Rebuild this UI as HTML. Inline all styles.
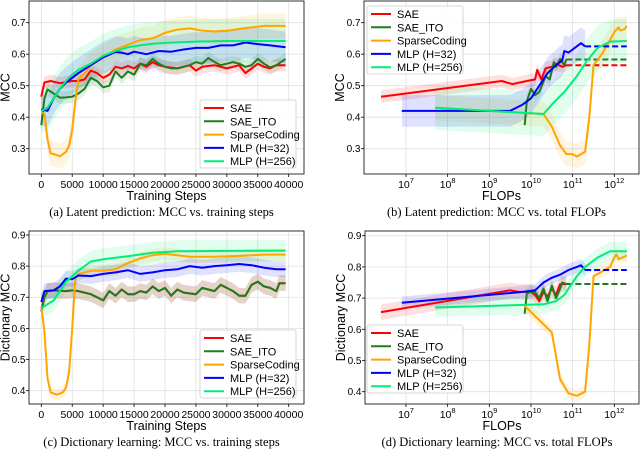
<!DOCTYPE html>
<html><head><meta charset="utf-8"><style>
body{margin:0;background:#fff;}
svg{display:block;font-family:"Liberation Sans",sans-serif;}
.cap{font-family:"Liberation Serif",serif;font-size:12.5px;fill:#000;}
</style></head><body>
<svg id="fig" width="640" height="455" viewBox="0 0 640 455"></svg>
<script>
// Panel (a): latent MCC vs training steps (thousands)
const aSAEx=[0,0.5,1.5,3,5,6,7,8,9,10,11,12,13,14,15,16,17,18,19,20,22,24,25,26,28,30,32,33,34,35,36,37,38,39.5];
const aSAEy=[0.465,0.51,0.515,0.508,0.515,0.515,0.52,0.548,0.54,0.525,0.535,0.56,0.555,0.563,0.555,0.57,0.56,0.575,0.565,0.56,0.555,0.565,0.548,0.56,0.565,0.555,0.565,0.54,0.555,0.57,0.56,0.555,0.565,0.565];
const aITOx=[0,0.5,1,2,3,4,5,6,7,8,9,10,11,12,13,14,15,16,17,18,19,20,21,22,24,25,26,27,28,29,30,31,32,33,34,35,36,37,38,39.5];
const aITOy=[0.375,0.46,0.488,0.475,0.462,0.463,0.465,0.475,0.49,0.525,0.515,0.495,0.5,0.545,0.525,0.545,0.535,0.57,0.565,0.585,0.57,0.56,0.555,0.555,0.565,0.575,0.57,0.588,0.575,0.565,0.57,0.575,0.57,0.56,0.565,0.585,0.57,0.558,0.565,0.585];
const aSCx=[0,0.5,1,1.5,2,3,4,4.5,5,5.5,6,7,8,10,12,14,16,18,20,22,24,26,28,30,32,34,36,39.5];
const aSCy=[0.415,0.41,0.33,0.285,0.283,0.276,0.29,0.31,0.36,0.45,0.52,0.54,0.565,0.59,0.615,0.63,0.645,0.65,0.668,0.678,0.682,0.675,0.672,0.674,0.68,0.685,0.69,0.69];
const aM32x=[0,1,2,3,4,5,6,8,10,12,13,14,15,17,19,21,23,25,27,29,31,33,35,37,39.5];
const aM32y=[0.425,0.42,0.46,0.49,0.51,0.525,0.54,0.565,0.59,0.607,0.605,0.6,0.608,0.6,0.61,0.608,0.615,0.62,0.62,0.628,0.628,0.637,0.632,0.628,0.622];
const aM256x=[0,1,2,3,4,5,6,8,10,12,14,16,18,20,25,30,39.5];
const aM256y=[0.42,0.43,0.46,0.49,0.515,0.535,0.55,0.57,0.595,0.61,0.622,0.628,0.633,0.636,0.64,0.642,0.642];
// Panel (b): latent MCC vs log10 FLOPs
const bSAEx=[6.4,9.3,9.55,9.9,10.1,10.15,10.25,10.35,10.5,10.6,10.75,10.85];
const bSAEy=[0.465,0.515,0.505,0.515,0.52,0.55,0.52,0.555,0.56,0.57,0.56,0.565];
const bITOx=[9.85,9.9,10.0,10.1,10.2,10.35,10.45,10.55,10.6,10.7,10.8,10.85];
const bITOy=[0.375,0.45,0.49,0.47,0.48,0.53,0.52,0.575,0.56,0.585,0.565,0.583];
const bSCx=[7.7,10.3,10.5,10.7,10.85,11.0,11.1,11.3,11.4,11.5,11.7,11.9,12.0,12.1,12.15,12.25,12.3];
const bSCy=[0.43,0.41,0.37,0.31,0.283,0.283,0.275,0.29,0.4,0.565,0.6,0.645,0.67,0.685,0.675,0.68,0.69];
const bM32x=[6.9,9.5,9.8,10.0,10.2,10.4,10.6,10.75,10.8,10.9,11.0,11.1,11.2,11.3];
const bM32y=[0.42,0.42,0.44,0.46,0.5,0.54,0.565,0.58,0.61,0.605,0.615,0.625,0.635,0.625];
const bM256x=[7.7,10.3,10.5,10.8,11.1,11.35,11.6,11.9,12.3];
const bM256y=[0.43,0.41,0.44,0.48,0.53,0.58,0.62,0.64,0.642];
// Panel (c): dictionary MCC vs training steps
const cITOx=[0,0.5,1,2,4,5,6,8,10,11,12,13,14,15,16,17,18,19,20,21,22,23,25,26,27,28,29,30,31,32,33,34,35,36,37,38,38.5,39.5];
const cITOy=[0.655,0.7,0.72,0.722,0.72,0.722,0.72,0.71,0.69,0.72,0.705,0.725,0.71,0.71,0.72,0.715,0.735,0.72,0.73,0.705,0.725,0.715,0.71,0.73,0.725,0.72,0.74,0.73,0.72,0.705,0.705,0.74,0.75,0.735,0.73,0.72,0.745,0.745];
const cSCx=[0,0.5,1,1.5,2.5,3.5,4,4.5,5,5.5,6,8,10,12,14,16,18,20,22,24,28,32,36,39.5];
const cSCy=[0.67,0.59,0.44,0.395,0.387,0.395,0.41,0.46,0.6,0.76,0.775,0.785,0.785,0.79,0.81,0.825,0.835,0.84,0.835,0.83,0.83,0.833,0.837,0.837];
const cM32x=[0,0.5,2,3,4,5,6,8,10,12,14,16,18,20,22,24,26,28,30,32,34,36,38,39.5];
const cM32y=[0.685,0.72,0.722,0.735,0.76,0.758,0.77,0.768,0.775,0.78,0.787,0.775,0.78,0.787,0.79,0.8,0.795,0.8,0.803,0.807,0.803,0.795,0.79,0.79];
const cM256x=[0,2,4,6,8,10,14,18,22,39.5];
const cM256y=[0.665,0.69,0.75,0.785,0.815,0.822,0.832,0.843,0.848,0.85];
// Panel (d): dictionary MCC vs log10 FLOPs
const dSAEx=[6.4,9.5,9.7,10.0,10.1,10.2,10.3,10.4,10.5,10.6,10.7,10.85];
const dSAEy=[0.655,0.725,0.72,0.72,0.71,0.69,0.72,0.705,0.73,0.71,0.745,0.745];
const dITOx=[9.85,9.9,10.0,10.1,10.2,10.3,10.4,10.5,10.6,10.7,10.75,10.85];
const dITOy=[0.65,0.715,0.72,0.72,0.7,0.73,0.69,0.74,0.7,0.73,0.75,0.745];
const dSCx=[9.85,10.5,10.7,10.9,11.1,11.3,11.4,11.5,11.7,11.9,12.0,12.05,12.1,12.25,12.3];
const dSCy=[0.675,0.59,0.44,0.395,0.387,0.40,0.55,0.77,0.785,0.8,0.83,0.84,0.825,0.833,0.837];
const dM32x=[6.9,9.8,10.1,10.3,10.5,10.7,10.9,11.1,11.2,11.3];
const dM32y=[0.685,0.72,0.725,0.75,0.765,0.775,0.79,0.8,0.805,0.79];
const dM256x=[7.7,10.3,10.6,10.8,11.1,11.3,11.6,11.9,12.3];
const dM256y=[0.67,0.68,0.69,0.71,0.77,0.8,0.83,0.85,0.85];
const stepTicks=[0,5,10,15,20,25,30,35,40];
const flopTicks=[7,8,9,10,11,12];
const yTicksA=[0.3,0.4,0.5,0.6,0.7];
const yTicksC=[0.4,0.5,0.6,0.7,0.8,0.9];
const names=["SAE","SAE_ITO","SparseCoding","MLP (H=32)","MLP (H=256)"];
const cols=["#ff0000","#1e7d1e","#ffa500","#0000ff","#00ee76"];

const NS="http://www.w3.org/2000/svg";
const svg=document.getElementById('fig');
function mk(t,a,p){const e=document.createElementNS(NS,t);for(const k in a)e.setAttribute(k,a[k]);(p||svg).appendChild(e);return e;}

function panel(id,box,xf,yf,xt,ytx,yt,series,dashEnd,legPos,xlabel,ylabel,caption,capY,logx){
  const g=mk('g',{});
  
  
  const [L,T,R,B]=box;
  xt.forEach((v,i)=>{const x=xf(v);
    mk('line',{x1:x,x2:x,y1:T,y2:B,stroke:'#e0e0e0','stroke-width':0.8},g);
    mk('line',{x1:x,x2:x,y1:B,y2:B+3,stroke:'#000','stroke-width':0.8},g);
    const t=mk('text',{x:x,y:B+14,'font-size':10.5,'text-anchor':'middle'},g);
    if(logx){t.textContent='10';const s=mk('tspan',{dy:-5,'font-size':7.5},t);s.textContent=String(v);}
    else t.textContent=String(v*1000);
    
    
  });
  yt.forEach(v=>{const y=yf(v);
    mk('line',{x1:L,x2:R,y1:y,y2:y,stroke:'#e0e0e0','stroke-width':0.8},g);
    mk('line',{x1:L-3,x2:L,y1:y,y2:y,stroke:'#000','stroke-width':0.8},g);
    const t=mk('text',{x:L-3.5,y:y+3.5,'font-size':10,'text-anchor':'end'},g);
    t.textContent=v.toFixed(1);
    
    
  });
  series.forEach((s,i)=>{if(!s)return;const [xs,ys,w]=s;
    let d='';xs.forEach((x,j)=>d+=(j?'L':'M')+xf(x)+','+yf(ys[j]+w));
    for(let j=xs.length-1;j>=0;j--)d+='L'+xf(xs[j])+','+yf(ys[j]-w);
    const p=mk('path',{d:d+'Z',fill:cols[i],opacity:0.12},g);
    
    
  });
  series.forEach((s,i)=>{if(!s)return;const [xs,ys]=s;
    let d='';xs.forEach((x,j)=>d+=(j?'L':'M')+xf(x).toFixed(1)+','+yf(ys[j]).toFixed(1));
    const p=mk('path',{d:d,fill:'none',stroke:cols[i],'stroke-width':2,'stroke-linejoin':'round'},g);
    
    
    if(dashEnd!==null && dashEnd[i]){const lx=xs[xs.length-1],ly=ys[ys.length-1];
      const q=mk('line',{x1:xf(lx),x2:xf(dashEnd[i]),y1:yf(ly),y2:yf(ly),stroke:cols[i],'stroke-width':2,'stroke-dasharray':'6,3'},g);
      
      }
  });
  mk('rect',{x:L,y:T,width:R-L,height:B-T,fill:'none',stroke:'#000','stroke-width':0.8},g);
  const [lx,ly]=legPos;
  const lg=mk('g',{},g);
  
  
  mk('rect',{x:lx,y:ly,width:96,height:68,rx:2,fill:'#fff','fill-opacity':0.85,stroke:'#ccc','stroke-width':0.8},lg);
  names.forEach((n,i)=>{const y=ly+8+i*13.3;
    mk('line',{x1:lx+4,x2:lx+24,y1:y,y2:y,stroke:cols[i],'stroke-width':2},lg);
    const t=mk('text',{x:lx+30,y:y+4,'font-size':11},lg);t.textContent=n;
    
    
  });
  const xl=mk('text',{x:(L+R)/2,y:B+26,'font-size':12.5,'text-anchor':'middle'},g);xl.textContent=xlabel;
  
  
  const yx=ytx,yy=(T+B)/2;
  const yl=mk('text',{x:yx,y:yy,'font-size':12.5,'text-anchor':'middle','dominant-baseline':'central',transform:`rotate(-90 ${yx} ${yy})`},g);yl.textContent=ylabel;
  
  
  const cp=mk('text',{x:(L+R)/2-5,y:capY,'text-anchor':'middle',class:'cap'},g);cp.textContent=caption;
  
  
}
const sx=v=>41.3+v*(288.7-41.3)/40;
const lx=v=>406+(v-7)*(614.3-406)/5;
const yA=v=>22.7+(0.7-v)*315;
const yC=v=>235+(0.9-v)*311.4;
const yD=v=>235.7+(0.9-v)*312;
panel('panel-a',[29,1,304,174],sx,yA,stepTicks,5.5,yTicksA,
 [[aSAEx,aSAEy,0.02],[aITOx,aITOy,0.02],[aSCx,aSCy,0.04],[aM32x,aM32y,0.05],[aM256x,aM256y,0.07]],null,[200,100],
 'Training Steps','MCC','(a) Latent prediction: MCC vs. training steps',216,false);
panel('panel-b',[364,1,639,174],lx,yA,flopTicks,340,yTicksA,
 [[bSAEx,bSAEy,0.02],[bITOx,bITOy,0.02],[bSCx,bSCy,0.04],[bM32x,bM32y,0.05],[bM256x,bM256y,0.07]],[12.3,12.3,null,12.3,null],[367,6],
 'FLOPs','MCC','(b) Latent prediction: MCC vs. total FLOPs',216,true);
panel('panel-c',[29,231,304,404],sx,yC,stepTicks,5.5,yTicksC,
 [[cITOx,cITOy,0.025],[cITOx,cITOy,0.025],[cSCx,cSCy,0.02],[cM32x,cM32y,0.025],[cM256x,cM256y,0.035]],null,[200,330],
 'Training Steps','Dictionary MCC','(c) Dictionary learning: MCC vs. training steps',446,false);
panel('panel-d',[365,231,639,404],lx,yD,flopTicks,341,yTicksC,
 [[dSAEx,dSAEy,0.025],[dITOx,dITOy,0.02],[dSCx,dSCy,0.02],[dM32x,dM32y,0.02],[dM256x,dM256y,0.03]],[12.3,12.3,null,12.3,null],[367,325],
 'FLOPs','Dictionary MCC','(d) Dictionary learning: MCC vs. total FLOPs',446,true);
</script>
</body></html>
